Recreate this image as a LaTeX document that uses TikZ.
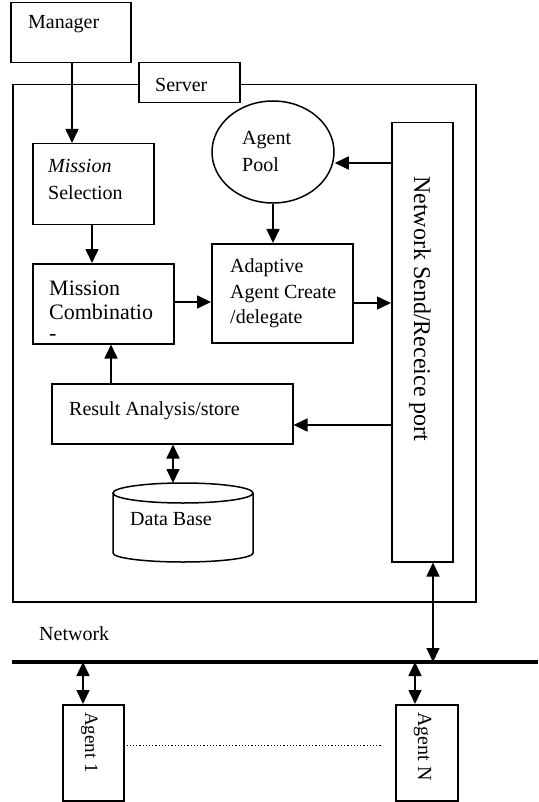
\documentclass[tikz,border=0pt]{standalone}
\usepackage{fontspec}
\setmainfont{Liberation Serif}
\usetikzlibrary{arrows.meta,calc,shapes.geometric}
\begin{document}
\begin{tikzpicture}[x=1pt,y=-1pt,
  bigtri/.tip={Triangle[length=14pt,width=13pt]},
  box/.style={draw, line width=1.5pt, fill=white, inner sep=0pt, anchor=north west},
  lbl/.style={font=\fontsize{20}{27}\selectfont, anchor=base west, inner sep=0pt},
  conn/.style={line width=1.6pt, -bigtri},
  dconn/.style={line width=1.6pt, bigtri-bigtri}]
\useasboundingbox (0,0) rectangle (538,802);

% server frame and its label
\node[box, minimum width=463, minimum height=517] (server) at (12,84) {};
\node[box, minimum width=101, minimum height=40] (srvlbl) at (138,62) {};
\node[lbl] at (155,92) {Server};

% manager
\node[box, minimum width=120, minimum height=60] (mgr) at (10,2) {};
\node[lbl] at (28,29) {Manager};

% mission selection
\node[box, minimum width=121, minimum height=81] (ms) at (32,143) {};
\node[lbl, font=\fontsize{20}{27}\selectfont\itshape] at (48,173) {Mission};
\node[lbl] at (48,200) {Selection};

% mission combination
\node[box, minimum width=141, minimum height=80] (mc) at (32,263) {};
\node[lbl, font=\fontsize{22}{27}\selectfont] at (49,295) {Mission};
\node[lbl, font=\fontsize{22}{27}\selectfont] at (49,319) {Combinatio};
\node[lbl, font=\fontsize{22}{27}\selectfont] at (49,340) {-};

% agent pool
\node[draw, ellipse, line width=1.5pt, minimum width=122, minimum height=102, inner sep=0pt] (pool) at (273,152) {};
\node[lbl] at (242,145) {Agent};
\node[lbl] at (242,172) {Pool};

% adaptive agent creation
\node[box, minimum width=141, minimum height=99] (ad) at (211,243) {};
\node[lbl] at (230,272) {Adaptive};
\node[lbl] at (230,298) {Agent Create};
\node[lbl] at (230,323) {/delegate};

% network port
\node[box, minimum width=61, minimum height=439] (port) at (391,122) {};
\node[lbl, font=\fontsize{24}{27}\selectfont, rotate=-90] at (414,176) {Network Send/Receice port};

% result analysis
\node[box, minimum width=241, minimum height=60] (res) at (51,383) {};
\node[lbl] at (69,415) {Result Analysis/store};

% data base cylinder
\draw[line width=1.5pt] (113,493) -- (113,553) arc[start angle=180, end angle=0, x radius=70, y radius=9] -- (253,493);
\draw[line width=1.5pt] (183,493) ellipse[x radius=70, y radius=10];
\coordinate (dbtop) at (173,483);
\node[lbl] (db) at (130,525) {Data Base};

% network line
\coordinate (netw) at (12,662);
\coordinate (nete) at (538,662);
\draw[line width=3.2pt] (netw) -- (nete);
\node[lbl] at (39,640) {Network};

% agents
\node[box, minimum width=61, minimum height=96] (a1) at (62,704) {};
\node[lbl, font=\fontsize{19}{24}\selectfont, rotate=-90] at (85,712) {Agent 1};
\node[box, minimum width=62, minimum height=96] (an) at (395,704) {};
\node[lbl, font=\fontsize{20}{24}\selectfont, rotate=-90] at (418,712) {Agent N};
\draw[dotted, line width=1.2pt] ($(a1.east)+(2,-7)$) -- ($(an.west)+(-13,-7)$);

% connectors
\draw[conn] (mgr.south -| 72,0) -- (ms.north -| 72,0);
\draw[conn] (ms.south -| 92,0) -- (mc.north -| 92,0);
\draw[conn] (pool.south) -- (pool.south |- ad.north);
\draw[conn] (port.west |- 0,163) -- (pool.east |- 0,163);
\draw[conn] (mc.east |- 0,302) -- (ad.west |- 0,302);
\draw[conn] (ad.east |- 0,303) -- (port.west |- 0,303);
\draw[conn] (port.west |- 0,425) -- (res.east |- 0,425);
\draw[conn] (res.north -| 111,0) -- (mc.south -| 111,0);
\draw[dconn] (res.south -| dbtop) -- (dbtop);
\draw[dconn] (port.south -| 433,0) -- (nete -| 433,0);
\draw[dconn] (netw -| 83,0) -- (a1.north -| 83,0);
\draw[dconn] (netw -| 415,0) -- (an.north -| 415,0);
\end{tikzpicture}
\end{document}
